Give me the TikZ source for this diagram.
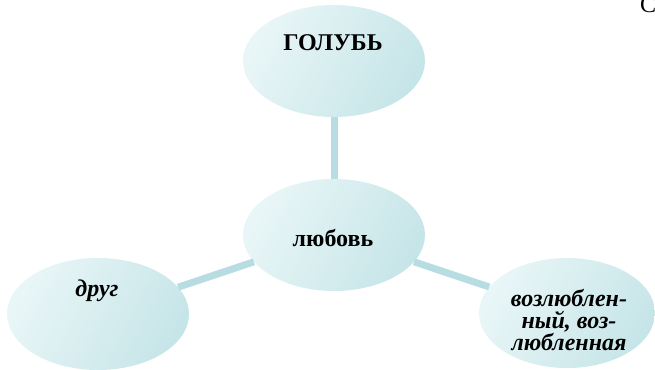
\documentclass[tikz,border=0pt]{standalone}
\usepackage{fontspec}
\setmainfont{Liberation Serif}
\usetikzlibrary{shapes.geometric,positioning}
\definecolor{cloudlight}{RGB}{233,246,247}
\definecolor{clouddark}{RGB}{198,229,232}
\definecolor{linkteal}{RGB}{183,221,226}
\tikzstyle{cloud} = [ellipse, minimum width=182pt, minimum height=112pt, inner sep=0pt, left color=cloudlight, right color=clouddark, shading angle=62]
\tikzstyle{link} = [line width=7pt, color=linkteal]
\tikzstyle{word} = [font=\fontsize{24}{22}\selectfont\bfseries, align=center]

\begin{document}
\begin{tikzpicture}[x=1pt, y=-1pt]
    \useasboundingbox (0,0) rectangle (655,369);

    % Ellipses
    \node[cloud] (golub) at (334, 61) {};
    \node[cloud] (love) at (334, 235) {};
    \node[cloud] (friend) at (98, 314) {};
    \node[cloud, minimum width=176pt, minimum height=110pt] (beloved) at (567, 313) {};

    % Links
    \draw[link] (golub) -- (love);
    \draw[link] (love) -- (friend);
    \draw[link] (love) -- (beloved);

    % Texts
    \node[word] at (333, 43) {ГОЛУБЬ};
    \node[word] at (333, 238) {любовь};
    \node[word, font=\fontsize{24}{22}\selectfont\bfseries\itshape] at (97, 291) {друг};
    \node[word, font=\fontsize{24}{22}\selectfont\bfseries\itshape] at (569, 320) {возлюблен-\\ный, воз-\\любленная};

    % Corner letter
    \node[font=\fontsize{24}{24}\selectfont, anchor=base west, inner sep=0pt] at (640, 13) {С};
\end{tikzpicture}
\end{document}
